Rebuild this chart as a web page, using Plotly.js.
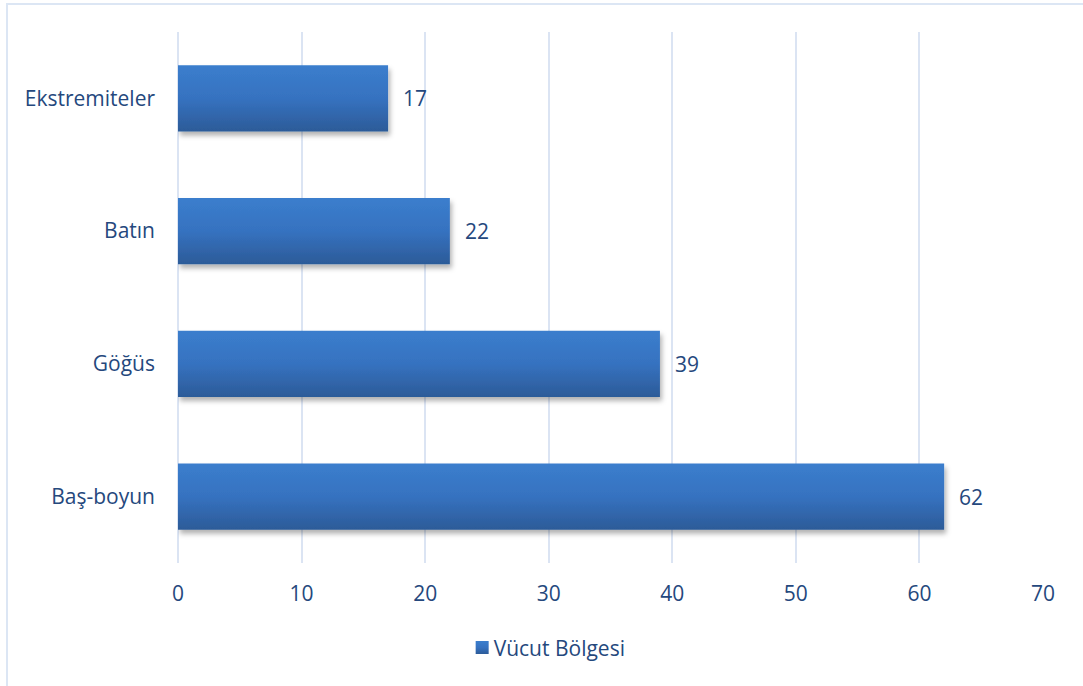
<!DOCTYPE html>
<html><head><meta charset="utf-8">
<script src="https://cdn.plot.ly/plotly-3.0.1.min.js"></script>
<style>
html,body{margin:0;padding:0;background:#fff;}
#frame{position:absolute;left:6px;top:3px;width:1200px;height:800px;border:2px solid #dce6f4;box-sizing:border-box;pointer-events:none;z-index:5;}
#chart{position:absolute;left:0;top:0;width:1083px;height:686px;}
</style></head>
<body>
<div id="chart"></div>
<div id="frame"></div>
<script>
const categories = ["Baş-boyun", "Göğüs", "Batın", "Ekstremiteler"];
const values = [62, 39, 22, 17];
const seriesName = "Vücut Bölgesi";
const xTicks = [0, 10, 20, 30, 40, 50, 60, 70];

const textColor = "#25487d";
const fontFam = "'Open Sans', Lato, sans-serif";
const fs = 21;

const trace = {
  type: "bar",
  orientation: "h",
  y: categories,
  x: values,
  name: seriesName,
  width: 0.5,
  marker: {color: "#3470bd", line: {width: 0}},
  hoverinfo: "none",
  showlegend: true
};

const annotations = categories.map((c, i) => ({
  x: values[i], y: c, xref: "x", yref: "y",
  text: String(values[i]), showarrow: false,
  xanchor: "left", xshift: 13,
  font: {family: fontFam, size: fs, color: textColor}
}));

const layout = {
  width: 1083, height: 686,
  margin: {l: 178, r: 40, t: 32, b: 123},
  paper_bgcolor: "#ffffff", plot_bgcolor: "#ffffff",
  font: {family: fontFam, size: fs, color: textColor},
  xaxis: {
    range: [0, 70], tickvals: xTicks, ticktext: xTicks.map(String),
    showgrid: true, gridcolor: "#dbe4f3", gridwidth: 2,
    zeroline: true, zerolinecolor: "#dbe4f3", zerolinewidth: 2,
    showline: false, ticks: "", ticklabelstandoff: 16,
    tickfont: {family: fontFam, size: fs, color: textColor},
    fixedrange: true
  },
  yaxis: {
    type: "category", categoryorder: "array", categoryarray: categories,
    showgrid: false, zeroline: false, showline: false, ticks: "",
    ticklabelstandoff: 22,
    tickfont: {family: fontFam, size: fs, color: textColor},
    fixedrange: true
  },
  showlegend: true,
  legend: {
    orientation: "h", x: 0.421, xanchor: "center", y: -0.16, yanchor: "middle",
    font: {family: fontFam, size: fs, color: textColor},
    itemwidth: 30
  },
  annotations: annotations
};

Plotly.newPlot("chart", [trace], layout, {staticPlot: true, displayModeBar: false}).then(function(gd){
  const svg = gd.querySelector("svg.main-svg");
  const ns = "http://www.w3.org/2000/svg";
  let defs = svg.querySelector("defs");
  if (!defs) { defs = document.createElementNS(ns, "defs"); svg.insertBefore(defs, svg.firstChild); }
  const lg = document.createElementNS(ns, "linearGradient");
  lg.setAttribute("id", "barGrad");
  lg.setAttribute("x1", "0"); lg.setAttribute("y1", "0");
  lg.setAttribute("x2", "0"); lg.setAttribute("y2", "1");
  [["0", "#3b7ecd"], ["0.5", "#3672c0"], ["1", "#2c5b98"]].forEach(function(s){
    const st = document.createElementNS(ns, "stop");
    st.setAttribute("offset", s[0]); st.setAttribute("stop-color", s[1]);
    lg.appendChild(st);
  });
  defs.appendChild(lg);
  const f = document.createElementNS(ns, "filter");
  f.setAttribute("id", "barShadow");
  f.setAttribute("x", "-10%"); f.setAttribute("y", "-20%");
  f.setAttribute("width", "130%"); f.setAttribute("height", "160%");
  const ds = document.createElementNS(ns, "feDropShadow");
  ds.setAttribute("dx", "2"); ds.setAttribute("dy", "4");
  ds.setAttribute("stdDeviation", "2.5");
  ds.setAttribute("flood-color", "#000"); ds.setAttribute("flood-opacity", "0.3");
  f.appendChild(ds);
  defs.appendChild(f);
  gd.querySelectorAll(".bars .point path").forEach(function(p){
    p.style.fill = "url(#barGrad)";
    p.setAttribute("filter", "url(#barShadow)");
  });
  gd.querySelectorAll(".legend .legendpoints").forEach(function(g){
    g.setAttribute("transform", "translate(8.5,0)");
  });
  gd.querySelectorAll(".legend .legendpoints path").forEach(function(p){
    p.style.fill = "url(#barGrad)";
    p.setAttribute("d", "M6.5,6.5H-6.5V-6.5H6.5Z");
  });
});
</script>
</body></html>
